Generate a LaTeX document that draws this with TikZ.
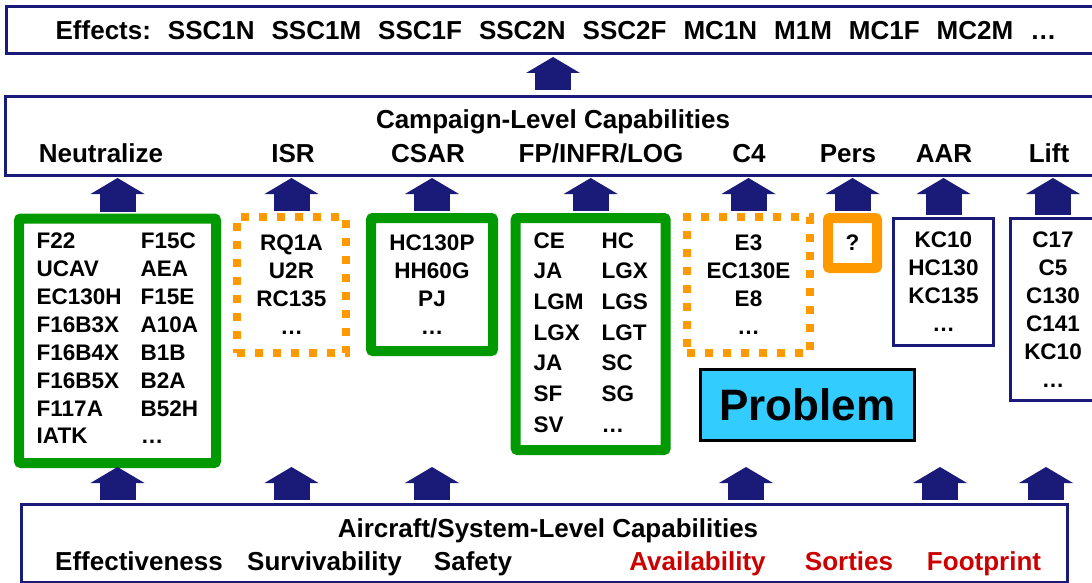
\documentclass[tikz,border=0pt]{standalone}
\usepackage{fontspec}
\setmainfont{Liberation Sans}
\usetikzlibrary{arrows.meta}

\definecolor{navy}{RGB}{26,26,120}
\definecolor{capgreen}{RGB}{0,153,0}
\definecolor{caporange}{RGB}{255,153,0}
\definecolor{probcyan}{RGB}{51,204,255}
\definecolor{shortred}{RGB}{204,0,0}

\newcommand{\effgap}{\hspace{17pt}}

\begin{document}
\begin{tikzpicture}[x=1pt, y=-1pt, font=\bfseries\fontsize{26}{31}\selectfont,
    tierbox/.style={rectangle, draw=navy, line width=3pt, inner sep=0pt},
    itemtext/.style={font=\bfseries\fontsize{22.5}{28}\selectfont, align=center, inner sep=0pt},
    greenbox/.style={rectangle, draw=capgreen, line width=10pt, rounded corners=2pt, itemtext},
    dotbox/.style={rectangle, draw=caporange, line width=8pt, dash pattern=on 8pt off 10pt, itemtext},
    orangebox/.style={rectangle, draw=caporange, line width=10pt, rounded corners=2pt, itemtext},
    navybox/.style={rectangle, draw=navy, line width=3pt, itemtext},
    uparrow/.style={draw=navy, line width=36pt, -{Triangle[length=16pt, width=54pt, line width=0pt]}}]

    \fill[white] (0,0) rectangle (1092,583);
    \useasboundingbox (0,0) rectangle (1092,583);
    \clip (0,0) rectangle (1092,583);

    % Effects
    \node[tierbox, minimum width=1099pt, minimum height=47pt] (effects) at (556,30)
        {Effects:\effgap SSC1N\effgap SSC1M\effgap SSC1F\effgap SSC2N\effgap SSC2F\effgap MC1N\effgap M1M\effgap MC1F\effgap MC2M\effgap …};

    % Campaign-level capabilities
    \node[tierbox, minimum width=1095pt, minimum height=78.5pt] (camp) at (553,136.25) {};
    \node[anchor=base] (camptitle) at (553,129) {Campaign-Level Capabilities};
    \foreach \x/\capname [count=\i] in {101/Neutralize, 293/ISR, 428/CSAR, 601/{FP/INFR/LOG}, 749/C4, 848/Pers, 944/AAR, 1049/Lift} {
        \node[anchor=base] (cap\i) at (\x,162) {\capname};
    }

    % Aircraft groups
    \node[greenbox, minimum width=197pt, minimum height=244.5pt] (neut) at (117.5,340.75) {%
        \fontsize{22.5}{27.9}\selectfont
        \begin{tabular}{@{}l@{\hspace{19pt}}l@{}}
            F22 & F15C\\
            UCAV & AEA\\
            EC130H & F15E\\
            F16B3X & A10A\\
            F16B4X & B1B\\
            F16B5X & B2A\\
            F117A & B52H\\
            IATK & …
        \end{tabular}};
    \node[dotbox, minimum width=109pt, minimum height=136pt] (isr) at (291.5,285) {RQ1A\\U2R\\RC135\\…};
    \node[greenbox, minimum width=122pt, minimum height=133pt] (csar) at (432,284.5) {HC130P\\HH60G\\PJ\\…};
    \node[greenbox, minimum width=150pt, minimum height=232pt] (fp) at (590.7,334) {%
        \fontsize{22.5}{30.7}\selectfont
        \begin{tabular}{@{}l@{\hspace{18pt}}l@{}}
            CE & HC\\
            JA & LGX\\
            LGM & LGS\\
            LGX & LGT\\
            JA & SC\\
            SF & SG\\
            SV & …
        \end{tabular}};
    \node[dotbox, minimum width=123pt, minimum height=136pt] (c4) at (748.5,285) {E3\\EC130E\\E8\\…};
    \node[orangebox, minimum width=49pt, minimum height=50pt] (pers) at (852.5,243) {?};
    \node[navybox, minimum width=100pt, minimum height=127pt] (aar) at (943.5,282) {KC10\\HC130\\KC135\\…};
    \node[navybox, minimum width=85pt, minimum height=182pt] (lift) at (1053,309.5) {C17\\C5\\C130\\C141\\KC10\\…};

    % Problem
    \node[rectangle, draw=black, line width=3pt, fill=probcyan, minimum width=214pt, minimum height=71pt, inner sep=0pt,
        font=\bfseries\fontsize{44}{50}\selectfont] (problem) at (807.5,405) {Problem};

    % Aircraft/system-level capabilities
    \node[tierbox, minimum width=1045.7pt, minimum height=78pt] (acft) at (544.15,543) {};
    \node[anchor=base] (acfttitle) at (548,537) {Aircraft/System-Level Capabilities};
    \foreach \x/\attr [count=\i] in {139/Effectiveness, 324.5/Survivability, 473/Safety} {
        \node[anchor=base] (attr\i) at (\x,570) {\attr};
    }
    \foreach \x/\attr [count=\i from 4] in {697.5/Availability, 849/Sorties, 984/Footprint} {
        \node[anchor=base, text=shortred] (attr\i) at (\x,570) {\attr};
    }

    % Arrows
    \draw[uparrow, shorten <=5.5pt, shorten >=2pt] (camp.north) -- (camp.north |- effects.south);
    \foreach \b in {neut,isr,csar,fp,c4,pers,aar,lift} {
        \draw[uparrow, shorten <=2pt, shorten >=1pt] (\b.north) -- (\b.north |- camp.south);
    }
    \foreach \x [count=\i] in {117.5,291.5,432,746,940,1046} {
        \coordinate (tip\i) at (\x,467);
        \draw[uparrow, shorten <=2.5pt] (tip\i |- acft.north) -- (tip\i);
    }
\end{tikzpicture}
\end{document}
